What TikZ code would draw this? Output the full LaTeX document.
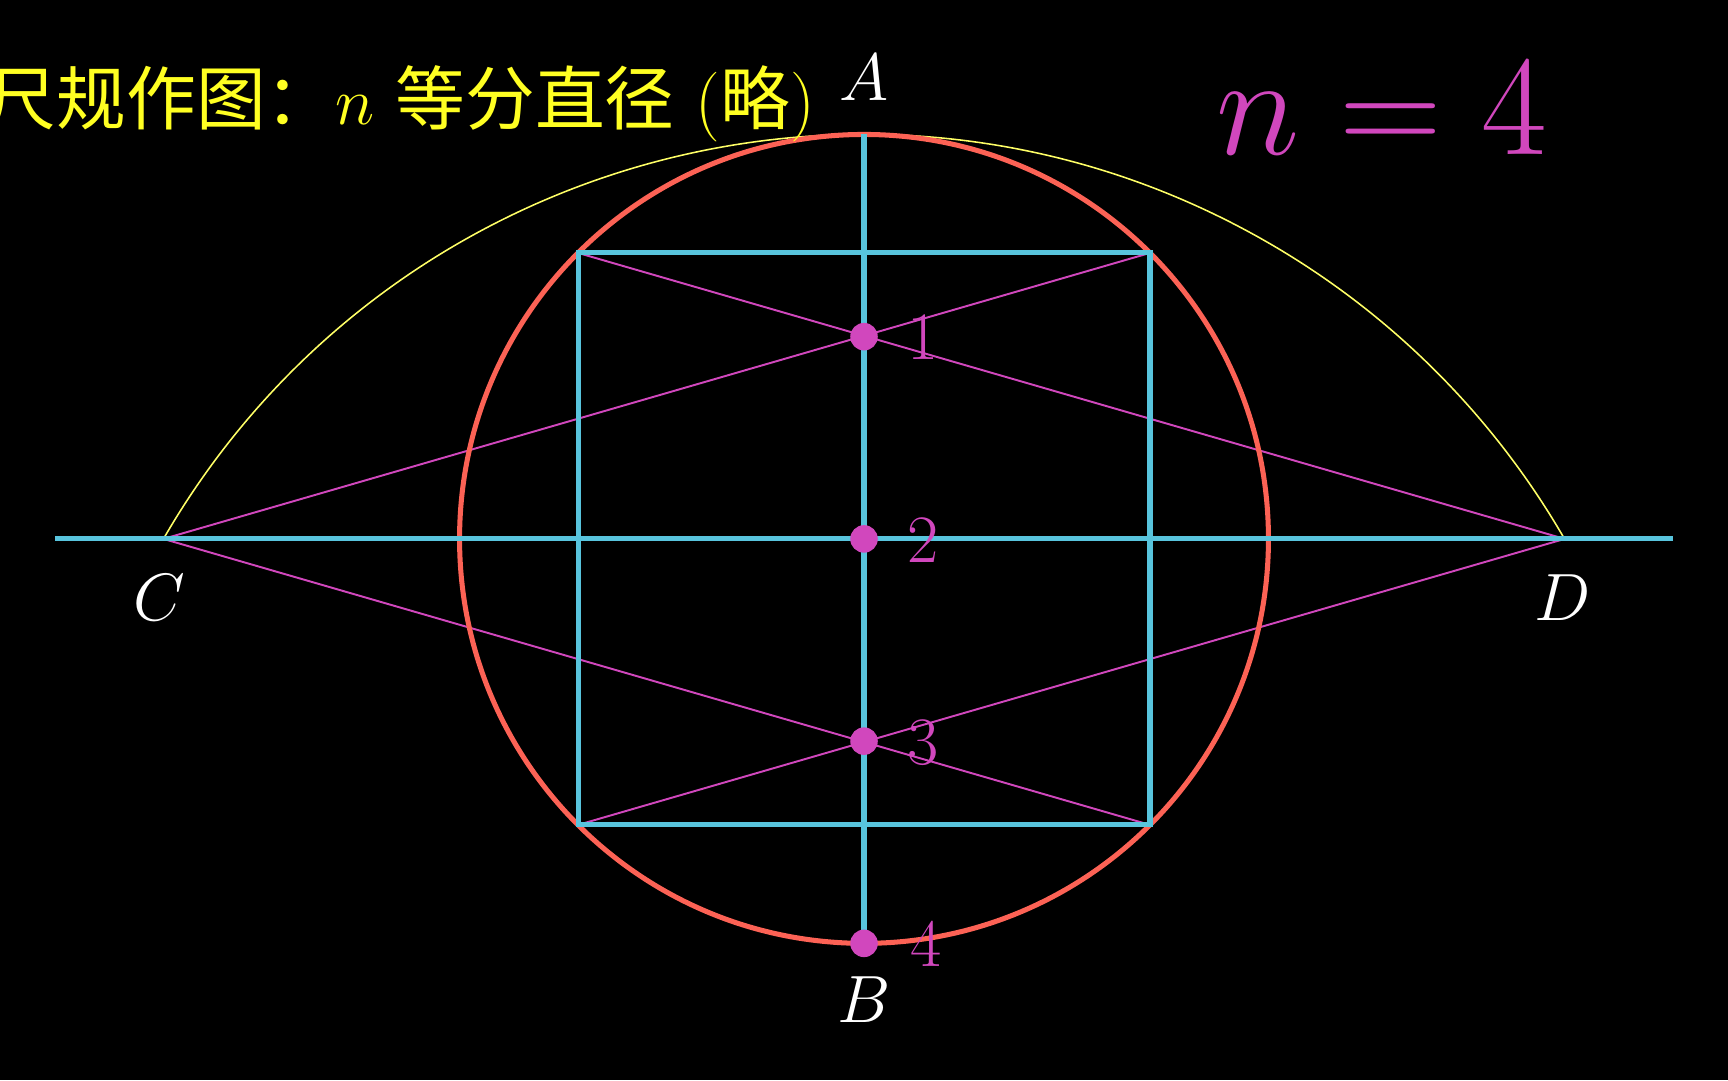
\documentclass[tikz,border=0pt]{standalone}
\usepackage{fontspec}
\newfontfamily\cjk{Noto Sans CJK SC}
\usetikzlibrary{positioning, calc}

\definecolor{lineblue}{HTML}{58C4DD}
\definecolor{circred}{HTML}{FC6255}
\definecolor{dotpink}{HTML}{D147BD}
\definecolor{arcyellow}{HTML}{FFFF66}
\definecolor{titleyellow}{HTML}{FFFF22}

\begin{document}
\begin{tikzpicture}[
    blue_style/.style={lineblue, line width=1.3pt},
    circle_style/.style={circred, line width=1.3pt},
    pink_style/.style={dotpink, line width=0.5pt},
    arc_style/.style={arcyellow, line width=0.4pt},
    dot_style/.style={circle, fill=dotpink, inner sep=0pt, minimum size=0.25cm},
    point_label/.style={white, font=\fontsize{17.5}{21}\selectfont, anchor=base, inner sep=0pt},
    num_label/.style={dotpink, font=\fontsize{17.5}{21}\selectfont, anchor=base, inner sep=0pt}
]
    \fill[black] (0,0) rectangle (15.68,9.80);
    \useasboundingbox (0,0) rectangle (15.68,9.80);

    % Coordinates
    \coordinate (O) at (7.84,4.91);
    \coordinate (A) at (7.84,8.58);
    \coordinate (B) at (7.84,1.24);
    \coordinate (C) at (1.483,4.91);
    \coordinate (D) at (14.197,4.91);
    \coordinate (L) at (0.50,4.91);
    \coordinate (R) at (15.18,4.91);
    \coordinate (p1) at (7.84,6.745);
    \coordinate (p3) at (7.84,3.075);
    \coordinate (tl) at ($(O)+(-2.595,2.595)$);
    \coordinate (tr) at ($(O)+(2.595,2.595)$);
    \coordinate (br) at ($(O)+(2.595,-2.595)$);
    \coordinate (bl) at ($(O)+(-2.595,-2.595)$);

    % Arc about B through A
    \draw[arc_style] (C) arc[start angle=150, end angle=30, radius=7.34];

    % Lines through the division points
    \draw[pink_style] (C) -- (tr);
    \draw[pink_style] (C) -- (br);
    \draw[pink_style] (D) -- (tl);
    \draw[pink_style] (D) -- (bl);

    % Circle, square and diameters
    \draw[circle_style] (O) circle[radius=3.67];
    \draw[blue_style] (tl) -- (tr) -- (br) -- (bl) -- cycle;
    \draw[blue_style] (L) -- (R);
    \draw[blue_style] (A) -- (B);

    % Division points
    \node[dot_style] (n1) at (p1) {};
    \node[dot_style] (n2) at (O) {};
    \node[dot_style] (n3) at (p3) {};
    \node[dot_style] (n4) at (B) {};
    \node[num_label] at (8.38,6.535) {1};
    \node[num_label] at (8.38,4.70) {2};
    \node[num_label] at (8.38,2.865) {3};
    \node[num_label] at (8.40,1.03) {4};

    % Labels
    \node[point_label] at (7.84,8.89) {$A$};
    \node[point_label] at (7.84,0.52) {$B$};
    \node[point_label] at (1.45,4.17) {$C$};
    \node[point_label] at (14.18,4.17) {$D$};

    \node[titleyellow, anchor=base east, inner sep=0pt, font=\fontsize{18}{22}\selectfont]
        (title) at (7.40,8.67) {{\cjk 尺规作图：}$n$ {\cjk 等分直径} ({\cjk 略})};
    \node[dotpink, anchor=base, inner sep=0pt, font=\fontsize{24.88}{30}\selectfont,
        scale=1.48, transform shape] (neq) at (12.54,8.40) {$n = 4$};
\end{tikzpicture}
\end{document}
